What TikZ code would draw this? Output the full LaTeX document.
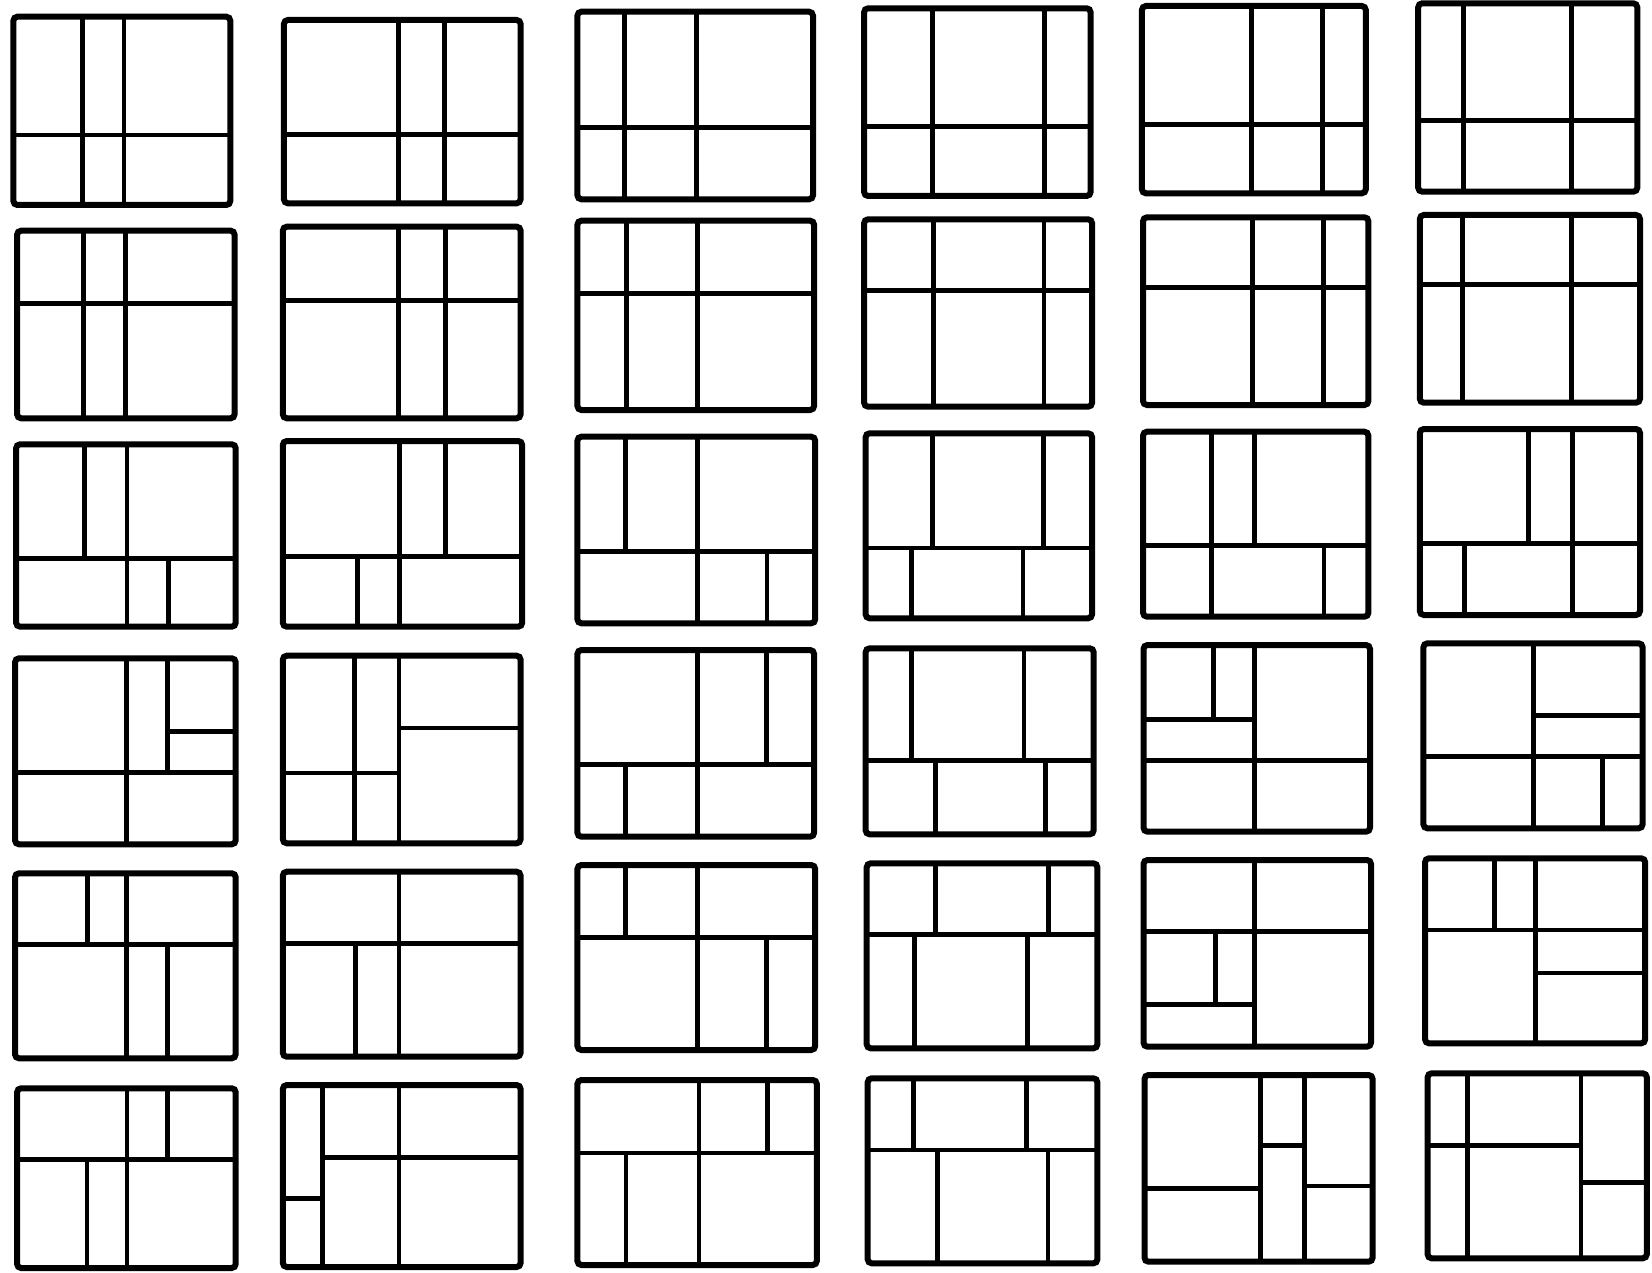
\documentclass[tikz,border=0pt]{standalone}
\begin{document}
\begin{tikzpicture}[x=1pt,y=-1pt,
  frame/.style={line width=6pt,rounded corners=4pt,black},
  part/.style={line width=4.8pt,black,line cap=butt}]
\fill[white] (0,0) rectangle (1652,1273);
\useasboundingbox (0,0) rectangle (1652,1273);
\newcommand\panel[5]{\begin{scope}[shift={(#1,#2)},xscale={#3-#1},yscale={#4-#2}]#5\draw[frame] (0,0) rectangle (1,1);\end{scope}}
\newcommand\vseg[3]{\draw[part] (#1,#2) -- (#1,#3);}
\newcommand\hseg[3]{\draw[part] (#2,#1) -- (#3,#1);}
% Row 1
\panel{13.4}{16.7}{230.3}{205}{\vseg{.32}{0}{1}\vseg{.51}{0}{1}\hseg{.628}{0}{1}}
\panel{283.9}{20}{520.6}{203.3}{\vseg{.485}{0}{1}\vseg{.68}{0}{1}\hseg{.625}{0}{1}}
\panel{577.4}{11.7}{813}{199.3}{\vseg{.20}{0}{1}\vseg{.507}{0}{1}\hseg{.617}{0}{1}}
\panel{864.1}{8.3}{1090.6}{196}{\vseg{.303}{0}{1}\vseg{.796}{0}{1}\hseg{.631}{0}{1}}
\panel{1141.9}{6}{1365.8}{193.3}{\vseg{.49}{0}{1}\vseg{.808}{0}{1}\hseg{.632}{0}{1}}
\panel{1418.2}{3.3}{1637.3}{191.7}{\vseg{.205}{0}{1}\vseg{.70}{0}{1}\hseg{.622}{0}{1}}
% Row 2
\panel{17.1}{230.7}{234.6}{418.3}{\vseg{.305}{0}{1}\vseg{.50}{0}{1}\hseg{.386}{0}{1}}
\panel{282.8}{226.7}{520.6}{418.3}{\vseg{.487}{0}{1}\vseg{.683}{0}{1}\hseg{.387}{0}{1}}
\panel{577.4}{220.7}{814.1}{410}{\vseg{.206}{0}{1}\vseg{.506}{0}{1}\hseg{.385}{0}{1}}
\panel{864.1}{219.3}{1092.1}{406.7}{\vseg{.303}{0}{1}\vseg{.789}{0}{1}\hseg{.378}{0}{1}}
\panel{1143}{217.3}{1368.4}{405}{\vseg{.486}{0}{1}\vseg{.80}{0}{1}\hseg{.375}{0}{1}}
\panel{1419.8}{215}{1640}{402.7}{\vseg{.195}{0}{1}\vseg{.69}{0}{1}\hseg{.37}{0}{1}}
% Row 3
\panel{16.1}{444.3}{235.7}{626.7}{\vseg{.505}{0}{1}\vseg{.31}{0}{.625}\vseg{.695}{.625}{1}\hseg{.625}{0}{1}}
\panel{282.8}{441}{522.2}{626.7}{\vseg{.487}{0}{1}\vseg{.68}{0}{.623}\vseg{.312}{.623}{1}\hseg{.623}{0}{1}}
\panel{577.4}{436.7}{815.2}{623.3}{\vseg{.505}{0}{1}\vseg{.203}{0}{.615}\vseg{.797}{.615}{1}\hseg{.615}{0}{1}}
\panel{865.6}{433.3}{1092.1}{618.3}{\vseg{.297}{0}{.62}\vseg{.787}{0}{.62}\vseg{.203}{.62}{1}\vseg{.695}{.62}{1}\hseg{.62}{0}{1}}
\panel{1143}{431.7}{1368.4}{616.7}{\vseg{.305}{0}{1}\vseg{.493}{0}{.616}\vseg{.803}{.616}{1}\hseg{.616}{0}{1}}
\panel{1419.8}{429}{1640}{615}{\vseg{.695}{0}{1}\vseg{.494}{0}{.615}\vseg{.204}{.615}{1}\hseg{.615}{0}{1}}
% Row 4
\panel{15}{658.3}{235.7}{844.3}{\vseg{.507}{0}{1}\vseg{.692}{0}{.612}\hseg{.612}{0}{1}\hseg{.392}{.692}{1}}
\panel{282.8}{655.7}{520.6}{843.3}{\vseg{.302}{0}{1}\vseg{.489}{0}{1}\hseg{.625}{0}{.489}\hseg{.385}{.489}{1}}
\panel{577.4}{650}{814.1}{836.7}{\vseg{.507}{0}{1}\vseg{.80}{0}{.615}\vseg{.204}{.615}{1}\hseg{.615}{0}{1}}
\panel{865.6}{648.3}{1093.7}{834.3}{\vseg{.20}{0}{.605}\vseg{.694}{0}{.605}\vseg{.305}{.605}{1}\vseg{.787}{.605}{1}\hseg{.605}{0}{1}}
\panel{1143.5}{645}{1370}{831.7}{\vseg{.49}{0}{1}\hseg{.62}{0}{1}\vseg{.31}{0}{.40}\hseg{.40}{0}{.49}}
\panel{1423.4}{643.3}{1642.6}{828.3}{\vseg{.502}{0}{1}\hseg{.61}{0}{1}\hseg{.39}{.502}{1}\vseg{.817}{.61}{1}}
% Row 5
\panel{15}{873.3}{235.7}{1058.3}{\vseg{.507}{0}{1}\vseg{.327}{0}{.386}\vseg{.692}{.386}{1}\hseg{.386}{0}{1}}
\panel{282.8}{871.7}{520.6}{1056.7}{\vseg{.489}{0}{1}\vseg{.305}{.386}{1}\hseg{.386}{0}{1}}
\panel{577.4}{865}{815.2}{1050}{\vseg{.505}{0}{1}\vseg{.203}{0}{.39}\vseg{.795}{.39}{1}\hseg{.39}{0}{1}}
\panel{866.7}{863.3}{1097.4}{1048.3}{\vseg{.298}{0}{.383}\vseg{.787}{0}{.383}\vseg{.207}{.383}{1}\vseg{.696}{.383}{1}\hseg{.383}{0}{1}}
\panel{1143.5}{860}{1371}{1046.7}{\vseg{.489}{0}{1}\hseg{.385}{0}{1}\vseg{.315}{.385}{.775}\hseg{.775}{0}{.489}}
\panel{1425}{858.3}{1645.2}{1043.3}{\vseg{.503}{0}{1}\vseg{.317}{0}{.387}\hseg{.387}{0}{1}\hseg{.62}{.503}{1}}
% Row 6
\panel{17.1}{1088.3}{235.7}{1268}{\vseg{.503}{0}{1}\vseg{.688}{0}{.397}\vseg{.32}{.397}{1}\hseg{.397}{0}{1}}
\panel{282.8}{1085}{520.6}{1267}{\vseg{.168}{0}{1}\vseg{.489}{0}{1}\hseg{.625}{0}{.168}\hseg{.40}{.168}{1}}
\panel{577.4}{1080}{816.8}{1265}{\vseg{.508}{0}{1}\vseg{.793}{0}{.395}\vseg{.203}{.395}{1}\hseg{.395}{0}{1}}
\panel{867.7}{1078.3}{1097.4}{1263.3}{\vseg{.20}{0}{.388}\vseg{.692}{0}{.388}\vseg{.305}{.388}{1}\vseg{.785}{.388}{1}\hseg{.388}{0}{1}}
\panel{1144.5}{1075}{1372.6}{1261.7}{\vseg{.51}{0}{1}\vseg{.703}{0}{1}\hseg{.607}{0}{.51}\hseg{.379}{.51}{.703}\hseg{.594}{.703}{1}}
\panel{1427.6}{1073.3}{1646.8}{1258.3}{\vseg{.183}{0}{1}\vseg{.70}{0}{1}\hseg{.39}{0}{.70}\hseg{.59}{.70}{1}}
\end{tikzpicture}
\end{document}
